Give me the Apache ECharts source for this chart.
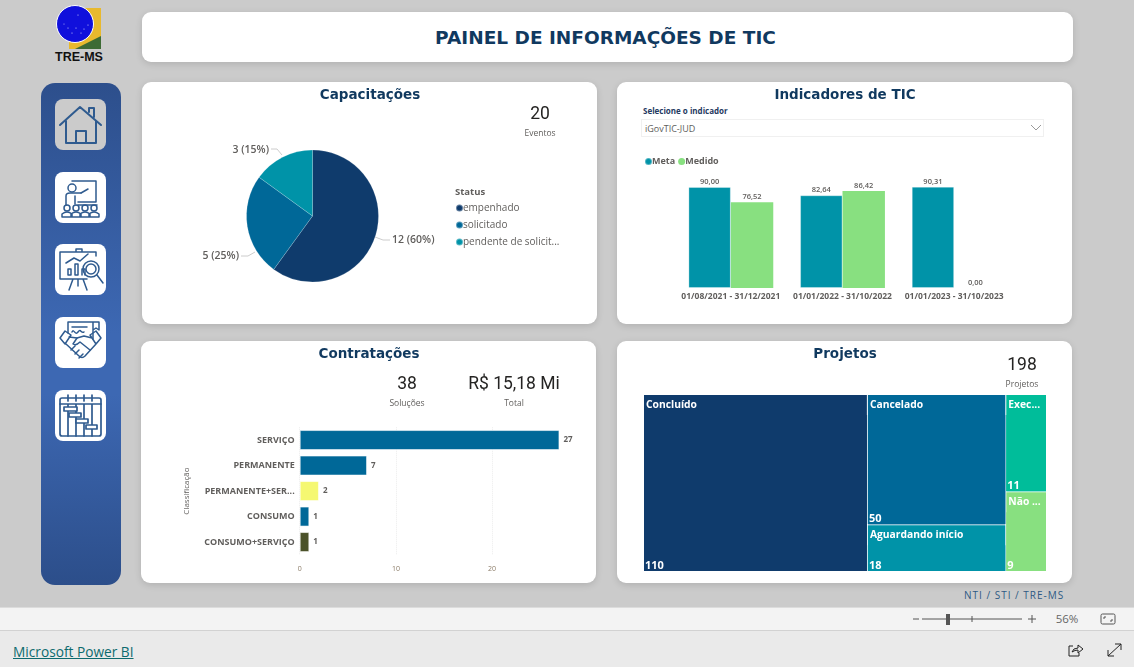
<!DOCTYPE html>
<html lang="pt-BR">
<head>
<meta charset="utf-8">
<title>Painel de Informações de TIC</title>
<script src="https://cdn.jsdelivr.net/npm/echarts@6/dist/echarts.min.js"></script>
<style>
  html, body { margin: 0; width: 1134px; height: 667px; overflow: hidden; background: #cbcbcb; font-family: "Open Sans", sans-serif; }
  .abs { position: absolute; }
  .card { position: absolute; background: #fff; border-radius: 9px; box-shadow: 0 2px 7px rgba(0,0,0,.13); }
  #header { left: 142px; top: 12px; width: 931px; height: 50px; text-align: center; text-indent: -4px;
    font: bold 18.5px/51px "DejaVu Sans", sans-serif; color: #10395f; }
  #sidebar { position: absolute; left: 41px; top: 83px; width: 80px; height: 502px; border-radius: 14px;
    background: linear-gradient(180deg, #2d4f8c 0%, #3d68b3 50%, #3d68b3 62%, #2c4e8a 100%); }
  .tile { position: absolute; left: 55px; width: 51px; height: 51px; border-radius: 8px; background: #fff; }
  .tile svg { display: block; fill: none; stroke: #2f5b8f; stroke-width: 1.5; stroke-linejoin: round; stroke-linecap: round; }
  #slicerLabel { left: 643px; top: 105px; font-size: 8px; font-weight: 700; color: #1f3a5f; }
  #slicer { left: 641px; top: 119px; width: 401px; height: 16px; border: 1px solid #f0f0f0; font-size: 9px; line-height: 17px; color: #605e5c; text-indent: 3px; }
  #footerNote { left: 964px; top: 588px; font-size: 10px; letter-spacing: 1px; color: #2e5a84; }
  #zoomBar { left: 0; top: 607px; width: 1134px; height: 22px; background: #f3f3f3; border-top: 1px solid #dcdcdc; border-bottom: 1px solid #d2d2d2; }
  #linkBar { left: 0; top: 631px; width: 1134px; height: 36px; background: #eaeaea; }
  #pbiLink { left: 13px; top: 642px; font-size: 13.7px; color: #0d6a6e; text-decoration: underline; }
  #chart { position: absolute; left: 0; top: 0; width: 1134px; height: 667px; }
</style>
</head>
<body>

<svg class="abs" style="left:50px;top:0" width="60" height="66" viewBox="0 0 60 66">
  <polygon points="25,8 51,8 51,49 19,49 19,30" fill="#e8b92e"/>
  <polygon points="25,49 51,36 51,49" fill="#3d6b35"/>
  <circle cx="25" cy="24" r="18.5" fill="#1010dc" stroke="#fff" stroke-width="1"/>
  <g fill="#cfd3ff"><circle cx="28" cy="15" r=".6"/><circle cx="18" cy="28" r=".6"/><circle cx="26" cy="28" r=".6"/><circle cx="34" cy="29" r=".6"/><circle cx="22" cy="33" r=".6"/><circle cx="31" cy="33" r=".6"/><circle cx="38" cy="25" r=".6"/><circle cx="14" cy="24" r=".5"/></g>
  <text x="29" y="61" text-anchor="middle" font-family="Liberation Sans" font-weight="700" font-size="12.5" fill="#111">TRE-MS</text>
</svg>

<div class="card" id="header">PAINEL DE INFORMAÇÕES DE TIC</div>
<div id="sidebar"></div>

<div class="tile" style="top:99px;background:#cbcbcb"><svg width="51" height="51" viewBox="0 0 51 51" style="stroke-width:2">
  <path d="M5 26 L25 8 L46 26 M11 22 V44 H41 V22 M21 44 V32 H31 V44 M34 13 V9 H39 V18"/></svg></div>
<div class="tile" style="top:172px"><svg width="51" height="51" viewBox="0 0 51 51">
  <path d="M17 9 H41 V30 H23 M23 33 H42 M26 21 L33 17"/><circle cx="17" cy="16" r="4"/><path d="M11 33 V24 Q11 21 15 21 H20 L26 21 M20 24 V32"/>
  <circle cx="12" cy="36" r="3"/><circle cx="21" cy="36" r="3"/><circle cx="30" cy="36" r="3"/><circle cx="39" cy="36" r="3"/>
  <path d="M7 45 V42 Q12 38 17 42 V45 M16 45 V42 Q21 38 26 42 V45 M25 45 V42 Q30 38 35 42 V45 M34 45 V42 Q39 38 44 42 V45 H7"/></svg></div>
<div class="tile" style="top:244px"><svg width="51" height="51" viewBox="0 0 51 51">
  <path d="M5 8 H41 V12 M5 8 V35 H32 M21 8 V5 H27 V8 M18 35 L14 46 M28 35 L32 46 M23 35 V42"/>
  <path d="M13 31 V25 H16 V31 Z M20 31 V20 H23 V31 Z M27 31 V25 H30 V31"/><path d="M11 19 L19 14 L25 17 L33 10"/>
  <circle cx="36" cy="25" r="8"/><circle cx="36" cy="25" r="5"/><path d="M42 31 L48 39"/></svg></div>
<div class="tile" style="top:317px"><svg width="51" height="51" viewBox="0 0 51 51">
  <path d="M13 16 V5 H37 M37 5 H44 V13 L41 11 L38 13 V5 M38 13 V22 M17 10 H32 M17 15 C19 11 20 19 23 15 S26 17 29 15"/>
  <path d="M5 21 L10 14 L16 18 L10 27 Z M46 21 L41 14 L35 18 L41 27 Z M14 20 L22 21 L29 19 L37 21 M41 27 L30 39 Q27 42 24 39 L11 27"/>
  <path d="M22 21 L18 27 Q21 29 25 25 L35 33 M20 37 L24 33 M24 41 L28 37 M16 33 L20 29"/></svg></div>
<div class="tile" style="top:390px"><svg width="51" height="51" viewBox="0 0 51 51" style="stroke-width:1.7">
  <rect x="5" y="8" width="41" height="38" rx="2"/><path d="M13 5 V11 M21 5 V11 M29 5 V11 M37 5 V11 M5 14 H46 M13 14 V46 M21 14 V46 M29 14 V46 M37 14 V46"/>
  <g fill="#fff"><rect x="9" y="17" width="13" height="4"/><rect x="14" y="23" width="12" height="4"/><rect x="21" y="29" width="12" height="4"/><rect x="31" y="35" width="11" height="4"/></g></svg></div>

<div class="card" style="left:142px;top:82px;width:455px;height:242px"></div>
<div class="card" style="left:617px;top:82px;width:455px;height:242px"></div>
<div class="card" style="left:141px;top:341px;width:455px;height:242px"></div>
<div class="card" style="left:617px;top:341px;width:455px;height:242px"></div>

<div class="abs" id="slicerLabel">Selecione o indicador</div>
<div class="abs" id="slicer">iGovTIC-JUD</div>
<svg class="abs" style="left:1030px;top:124px" width="12" height="8"><path d="M1 1 L6 6 L11 1" fill="none" stroke="#9a9a9a"/></svg>

<div class="abs" id="footerNote">NTI / STI / TRE-MS</div>
<div class="abs" id="zoomBar"></div>
<div class="abs" id="linkBar"></div>
<div class="abs" id="pbiLink">Microsoft Power BI</div>

<svg class="abs" style="left:905px;top:608px" width="220" height="22">
  <path d="M8 11 H14 M17 11 H117 M67 8 V14 M123 11 H131 M127 7 V15" stroke="#555" fill="none"/>
  <rect x="41" y="6" width="4" height="11" fill="#555"/>
  <text x="162" y="15" text-anchor="middle" font-family="Open Sans" font-size="11.5" fill="#666">56%</text>
  <rect x="196" y="6" width="14" height="10" rx="1.5" fill="none" stroke="#555"/>
  <path d="M199 11 V9 H201 M207 11 V13 H205" stroke="#555" fill="none"/>
</svg>
<svg class="abs" style="left:1065px;top:641px" width="60" height="20" fill="none" stroke="#222">
  <path d="M8 5 H4 V15 H14 V12 M7 11 Q8 7 13 7 V4 L18 8 L13 12 V9 Q10 9 7 11"/>
  <path d="M43 15 L56 3 M50 3 H56 V9 M43 9 V15 H49"/>
</svg>

<div id="chart"></div>

<script>
// ---------- Data ----------
const statusNames = ['empenhado', 'solicitado', 'pendente de solicitação']
const statusCounts = [12, 5, 3]

const periodos = ['01/08/2021 - 31/12/2021', '01/01/2022 - 31/10/2022', '01/01/2023 - 31/10/2023']
const meta = [90.00, 82.64, 90.31]
const medido = [76.52, 86.42, 0.00]

const classificacoes = ['SERVIÇO', 'PERMANENTE', 'PERMANENTE+SERVIÇO', 'CONSUMO', 'CONSUMO+SERVIÇO']
const solucoes = [27, 7, 2, 1, 1]

const projetoNomes = ['Concluído', 'Cancelado', 'Aguardando início', 'Execução', 'Não iniciado']
const projetoValores = [110, 50, 18, 11, 9]

// ---------- Styles ----------
const NAVY = '#0f3b6c', BLUE = '#006898', TEAL = '#0093a8', GREEN = '#88e080', MINT = '#00bd9a'
const YELLOW = '#f5f871', OLIVE = '#4b5229'
const GREY = '#605e5c', TITLE = '#10395f'
const FONT = '"Open Sans", sans-serif'
const barColors = [BLUE, BLUE, YELLOW, BLUE, OLIVE]
const projetoColors = [NAVY, BLUE, TEAL, MINT, GREEN]

const fmtBR = v => v.toFixed(2).replace('.', ',')

const cardTitle = (text, x, y) => ({
  text, left: x, top: y, textAlign: 'center', padding: 0,
  textStyle: { fontFamily: '"DejaVu Sans", sans-serif', fontSize: 13.5, fontWeight: 'bold', color: TITLE }
})
const kpi = (text, sub, x, y) => ({
  text, subtext: sub, left: x, top: y, textAlign: 'center', itemGap: 5, padding: 0,
  textStyle: { fontFamily: 'Roboto, sans-serif', fontSize: 17.5, fontWeight: 400, color: '#252423' },
  subtextStyle: { fontFamily: FONT, fontSize: 8.5, color: GREY }
})

// Pie labels sit where Power BI left them, the default spots are too far round the circle
const pieLabelSpots = [
  { x: 392, y: 240, align: 'left', verticalAlign: 'middle', labelLinePoints: [[375, 237], [383, 240], [390, 240]] },
  { x: 239, y: 256, align: 'right', verticalAlign: 'middle', labelLinePoints: [[255, 252], [248, 256], [241, 256]] },
  { x: 269, y: 150, align: 'right', verticalAlign: 'middle', labelLinePoints: [[282, 155], [277, 149], [271, 149]] }
]

// Each project box: name in the upper band, count in the child cell at the bottom
const projectNode = i => ({
  name: projetoNomes[i],
  itemStyle: { color: projetoColors[i], borderColor: projetoColors[i], borderWidth: 0, gapWidth: 0 },
  upperLabel: {
    show: true, height: 20, color: '#fff', fontFamily: FONT, fontSize: 10.3, fontWeight: 700, padding: [6, 4, 0, 2]
  },
  children: [{
    name: projetoNomes[i] + ' total',
    value: projetoValores[i],
    itemStyle: { color: projetoColors[i], borderColor: projetoColors[i], borderWidth: 1 },
    label: {
      show: true, position: 'insideBottomLeft', distance: 0, color: '#fff', fontFamily: FONT,
      fontSize: 11, fontWeight: 700, padding: [0, 0, -1, 0], formatter: p => String(p.value)
    }
  }]
})
const wrapper = (name, idx) => ({
  name,
  itemStyle: { borderColor: '#ffffff', borderWidth: 0, gapWidth: 1 },
  children: idx.map(projectNode)
})

const option = {
  animation: false,
  textStyle: { fontFamily: FONT },
  title: [
    cardTitle('Capacitações', 370, 88),
    cardTitle('Indicadores de TIC', 845, 88),
    cardTitle('Contratações', 369, 347),
    cardTitle('Projetos', 845, 347),
    kpi('20', 'Eventos', 540, 106),
    kpi('38', 'Soluções', 407, 376),
    kpi('R$ 15,18 Mi', 'Total', 514, 376),
    kpi('198', 'Projetos', 1022, 357)
  ],
  legend: [
    {
      data: statusNames, left: 450, top: 198, orient: 'vertical', icon: 'circle',
      itemWidth: 7, itemHeight: 7, itemGap: 7,
      textStyle: { color: GREY, fontSize: 10, width: 110, overflow: 'truncate', ellipsis: '...', padding: [0, 0, 0, -5] }
    },
    {
      data: ['Meta', 'Medido'], left: 639, top: 152, icon: 'circle',
      itemWidth: 7, itemHeight: 7, itemGap: 3,
      textStyle: { color: GREY, fontSize: 9, fontWeight: 700, padding: [0, 0, 0, -5] }
    }
  ],
  graphic: [{
    type: 'text', left: 455, top: 187,
    style: { text: 'Status', fill: GREY, font: '700 9.5px "Open Sans"' }
  }],
  grid: [
    { left: 675, top: 175.8, width: 335, height: 112.2 },
    { left: 299.7, top: 427.3, width: 288.6, height: 127.5 }
  ],
  xAxis: [
    {
      gridIndex: 0, type: 'category', data: periodos,
      axisLine: { show: false }, axisTick: { show: false },
      axisLabel: { color: GREY, fontSize: 8.5, fontWeight: 700, margin: 4, interval: 0 }
    },
    {
      gridIndex: 1, type: 'value', min: 0, max: 30, interval: 10,
      axisLine: { show: false }, axisTick: { show: false },
      axisLabel: { color: '#8a7a66', fontSize: 7, margin: 11, showMaxLabel: false },
      splitLine: { showMaxLine: false, lineStyle: { color: '#ececec', type: 'dotted' } }
    }
  ],
  yAxis: [
    { gridIndex: 0, type: 'value', min: 0, max: 100, show: false },
    {
      gridIndex: 1, type: 'category', inverse: true, data: classificacoes,
      axisLine: { show: false }, axisTick: { show: false },
      axisLabel: {
        color: GREY, fontSize: 9, fontWeight: 700, margin: 5, interval: 0,
        width: 92, overflow: 'truncate', ellipsis: '...'
      },
      name: 'Classificação', nameLocation: 'middle', nameRotate: 90, nameGap: 109,
      nameTextStyle: { color: GREY, fontSize: 8 }
    }
  ],
  series: [
    {
      type: 'pie', center: [312.5, 216], radius: 66, startAngle: 90,
      data: statusNames.map((name, i) => ({ name, value: statusCounts[i] })),
      color: [NAVY, BLUE, TEAL],
      itemStyle: { borderColor: 'rgba(255,255,255,0.35)', borderWidth: 0.5 },
      label: { formatter: '{c} ({d}%)', color: GREY, fontSize: 10.5, fontWeight: 600 },
      labelLine: { length: 8, length2: 10, lineStyle: { color: '#cccccc', width: 1 } },
      labelLayout: p => pieLabelSpots[p.dataIndex]
    },
    {
      name: 'Meta', type: 'bar', xAxisIndex: 0, yAxisIndex: 0, data: meta, barWidth: '38%', barGap: 0,
      itemStyle: { color: TEAL, borderColor: 'rgba(255,255,255,0.3)', borderWidth: 1 },
      label: { show: true, position: 'top', distance: 1, color: GREY, fontSize: 7.5, fontWeight: 600, formatter: p => fmtBR(p.value) }
    },
    {
      name: 'Medido', type: 'bar', xAxisIndex: 0, yAxisIndex: 0, data: medido, barWidth: '38%',
      itemStyle: { color: GREEN },
      label: { show: true, position: 'top', distance: 1, color: GREY, fontSize: 7.5, fontWeight: 600, formatter: p => fmtBR(p.value) }
    },
    {
      type: 'bar', xAxisIndex: 1, yAxisIndex: 1, barWidth: 20,
      data: solucoes.map((value, i) => ({ value, itemStyle: { color: barColors[i] } })),
      itemStyle: { borderColor: 'rgba(255,255,255,0.55)', borderWidth: 1 },
      label: { show: true, position: 'right', distance: 4, color: GREY, fontSize: 8, fontWeight: 700 }
    },
    {
      type: 'treemap', left: 644, top: 395, width: 402, height: 176,
      roam: false, nodeClick: false, breadcrumb: { show: false },
      itemStyle: { gapWidth: 1, borderWidth: 0 },
      data: [projectNode(0), wrapper('grupo 2', [1, 2]), wrapper('grupo 3', [3, 4])]
    }
  ]
}

const chart = echarts.init(document.getElementById('chart'), null, { renderer: 'canvas' })
chart.setOption(option)
</script>
</body>
</html>
